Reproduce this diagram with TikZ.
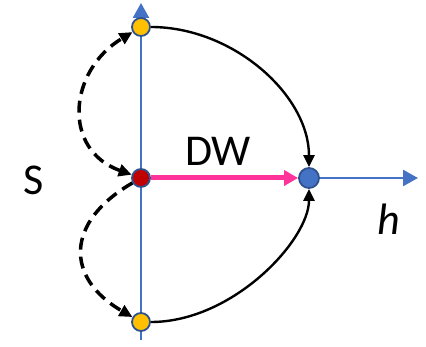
\documentclass[tikz,border=0pt]{standalone}
\usepackage{fontspec}
\setmainfont{Carlito}
\usetikzlibrary{arrows.meta}
\definecolor{axisblue}{HTML}{4472C4}
\definecolor{rimblue}{HTML}{2F528F}
\definecolor{dwpink}{HTML}{FF3399}
\definecolor{redfill}{HTML}{C00000}
\definecolor{yellowfill}{HTML}{FFC000}
\tikzset{
  dot/.style={circle,draw=rimblue,line width=1.8pt,minimum size=18pt,inner sep=0pt},
  axisline/.style={draw=axisblue,line width=2.5pt,-{Triangle[length=15pt,width=16pt]}},
  blackarrow/.style={draw=black,line width=2.4pt,-{Triangle[length=12pt,width=11pt]}},
  dasharrow/.style={draw=black,line width=3.5pt,dash pattern=on 12pt off 7pt},
  dtip/.tip={Triangle[length=13pt,width=12pt]},
  lbl/.style={font=\fontsize{44}{48}\selectfont,inner sep=0pt}
}
\begin{document}
\begin{tikzpicture}[x=1pt,y=-1pt]
\useasboundingbox (0,0) rectangle (426,347);
\coordinate (vbot) at (141,340);
\coordinate (vtop) at (141,3);
\coordinate (hend) at (418,178);
\draw[axisline] (vbot) -- (vtop);
\draw[axisline] (309,178) -- (hend);
\node[dot,fill=yellowfill] (top) at (141,27) {};
\node[dot,fill=redfill] (red) at (141,178) {};
\node[dot,fill=yellowfill] (bot) at (141,322) {};
\node[dot,fill=axisblue,minimum size=20pt] (blue) at (309,178) {};
\draw[draw=dwpink,line width=5pt,-{Triangle[length=14pt,width=15pt]}] (red) -- (blue);
\draw[blackarrow] (top) .. controls (233,27) and (309,95) .. (blue);
\draw[blackarrow] (bot) .. controls (233,322) and (309,240) .. (blue);
\draw[dasharrow,dtip-dtip] (red) .. controls (62,150) and (68,71) .. (top);
\draw[dasharrow,-dtip] (red) .. controls (65,222) and (65,278) .. (bot);
\node[lbl] (dw) at (218,151) {DW};
\node[lbl] (s) at (34,180) {S};
\node[lbl,font=\fontsize{44}{48}\selectfont\itshape] (h) at (389,219) {h};
\end{tikzpicture}
\end{document}
